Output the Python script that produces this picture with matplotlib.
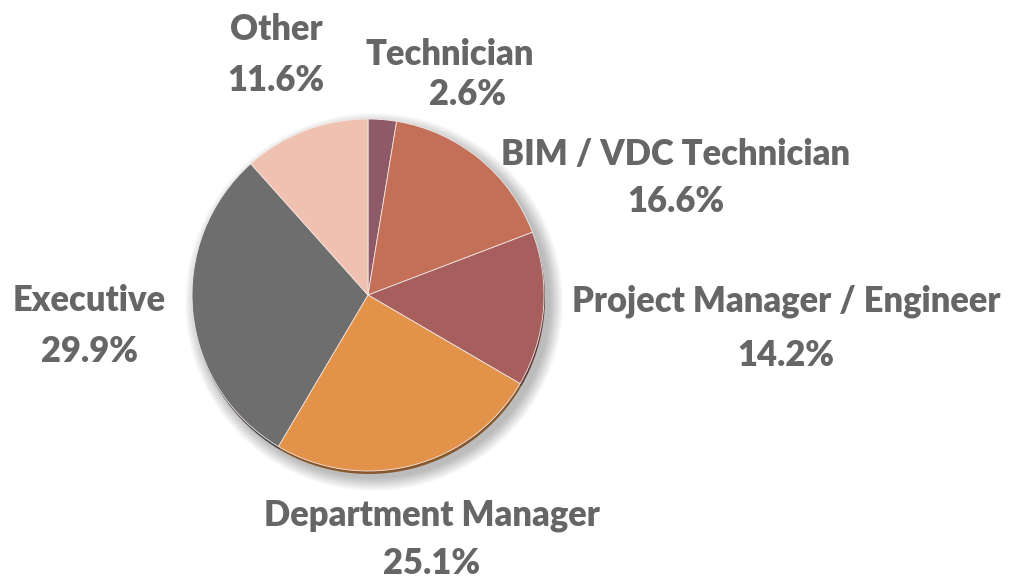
import matplotlib.pyplot as plt
from matplotlib.patches import Circle

# ==== data ====
roles = ['Technician', 'BIM / VDC Technician', 'Project Manager / Engineer',
         'Department Manager', 'Executive', 'Other']
shares = [2.6, 16.6, 14.2, 25.1, 29.9, 11.6]
colors = ['#8E5A68', '#C46F57', '#A65F5C', '#E39349', '#6E6E6E', '#EEC1B1']

# label layout in pixels from top: (name x, name baseline, pct x, pct baseline)
lab_pos = [(450, 65, 468, 105),
           (676, 165, 676, 212),
           (786, 312, 786, 366),
           (432, 526, 432, 574),
           (89, 311, 89, 362),
           (276, 40, 276, 91)]

W, H = 1013, 580
cx, cy, r = 368, 295, 176

fig = plt.figure(figsize=(W / 100, H / 100), dpi=100)
ax = fig.add_axes([0, 0, 1, 1])
ax.set_xlim(0, W)
ax.set_ylim(0, H)
ax.set_aspect('equal')
ax.axis('off')

# soft drop shadow to the lower right
for k in range(14):
    ax.add_patch(Circle((cx + 6, H - cy - 7), r + 13 - k, color='black',
                        alpha=0.02, lw=0, zorder=1))

# darker rim underneath (bevel look)
rim, _ = ax.pie(shares, colors=colors, startangle=90, counterclock=False,
                center=(cx + 1, H - cy - 3), radius=r,
                wedgeprops=dict(linewidth=0))
for w in rim:
    w.set_zorder(2)
    fc = w.get_facecolor()
    w.set_facecolor((fc[0] * 0.6, fc[1] * 0.6, fc[2] * 0.6, 1))

top, _ = ax.pie(shares, colors=colors, startangle=90, counterclock=False,
                center=(cx, H - cy), radius=r,
                wedgeprops=dict(linewidth=0.6, edgecolor='#f4e8e4'))
for w in top:
    w.set_zorder(3)

ax.set_xlim(0, W)
ax.set_ylim(0, H)

# pick font size so the longest label is as wide as in the original
fam = 'Lato'
wt = 'heavy'
probe = ax.text(0, 0, 'Project Manager / Engineer', fontsize=20,
                family=fam, fontweight=wt)
fig.canvas.draw()
pw = probe.get_window_extent().width
probe.remove()
fs = 20 * 430 / pw

for name, val, (nx, ny, px, py) in zip(roles, shares, lab_pos):
    ax.text(nx, H - ny, name, ha='center', va='baseline', fontsize=fs,
            fontweight=wt, family=fam, color='#666666', zorder=5)
    ax.text(px, H - py, f'{val:.1f}%', ha='center', va='baseline', fontsize=fs,
            fontweight=wt, family=fam, color='#666666', zorder=5)

fig.savefig('out.png', dpi=100)
